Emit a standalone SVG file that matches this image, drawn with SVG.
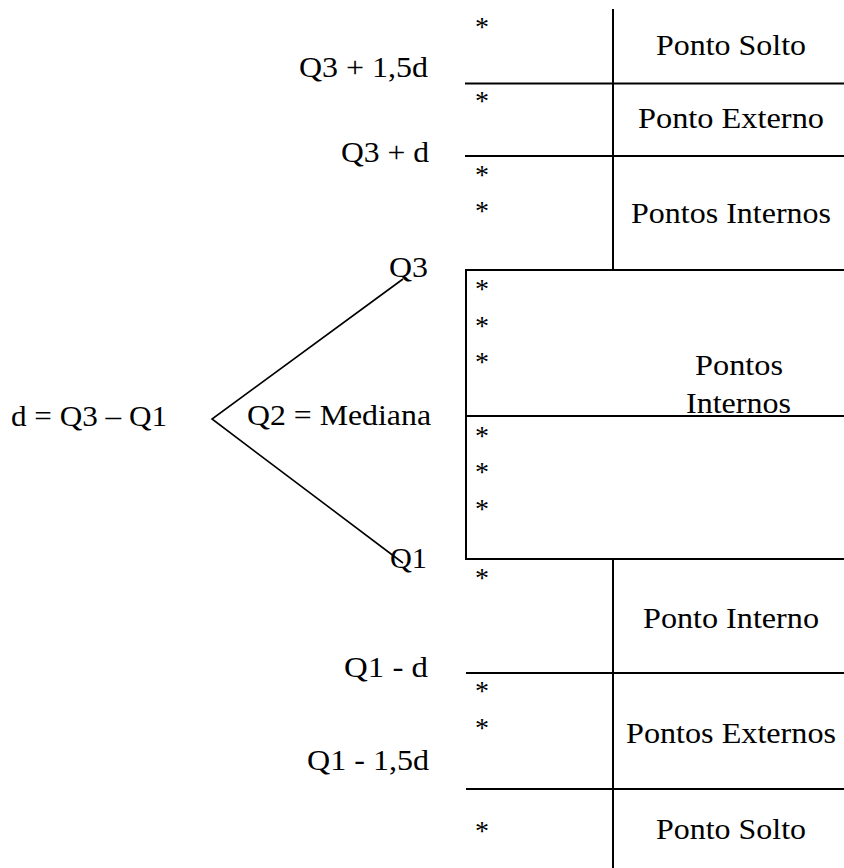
<svg xmlns="http://www.w3.org/2000/svg" width="844" height="868" viewBox="0 0 844 868">
<style>
text{font-family:"Liberation Serif","Times New Roman",serif;font-size:30px;fill:#000}
.ast{text-anchor:middle;font-size:28px}
.grid{stroke:#000;stroke-width:2;fill:none}
.conn{stroke:#000;stroke-width:1.6;fill:none}
</style>
<rect width="844" height="868" fill="#fff"/>
<g id="grid">
<line class="grid" x1="613" y1="9" x2="613" y2="270"/>
<line class="grid" x1="465" y1="83.5" x2="846" y2="83.5"/>
<line class="grid" x1="465" y1="156" x2="846" y2="156"/>
<path class="grid" d="M846 270 H466 V559 H846"/>
<line class="grid" x1="466" y1="416" x2="846" y2="416"/>
<line class="grid" x1="613" y1="559" x2="613" y2="870"/>
<line class="grid" x1="466" y1="673" x2="846" y2="673"/>
<line class="grid" x1="466" y1="789" x2="846" y2="789"/>
</g>
<g id="connectors">
<polyline class="conn" points="403,279 212,419 403,563"/>
</g>
<g id="node-d"><text x="11" y="426" textLength="156" lengthAdjust="spacingAndGlyphs">d = Q3 – Q1</text></g>
<g id="node-q2"><text x="247" y="425" textLength="184" lengthAdjust="spacingAndGlyphs">Q2 = Mediana</text></g>
<g id="node-q3"><text x="389" y="277" textLength="39" lengthAdjust="spacingAndGlyphs">Q3</text></g>
<g id="node-q1"><text x="390" y="568" textLength="37" lengthAdjust="spacingAndGlyphs">Q1</text></g>
<g id="node-q3-15d"><text x="299" y="77" textLength="129" lengthAdjust="spacingAndGlyphs">Q3 + 1,5d</text></g>
<g id="node-q3-d"><text x="341" y="162" textLength="88" lengthAdjust="spacingAndGlyphs">Q3 + d</text></g>
<g id="node-q1-d"><text x="344" y="677" textLength="84" lengthAdjust="spacingAndGlyphs">Q1 - d</text></g>
<g id="node-q1-15d"><text x="307" y="770" textLength="122" lengthAdjust="spacingAndGlyphs">Q1 - 1,5d</text></g>
<g id="cell-solto-top"><text class="ast" x="482" y="36">*</text><text x="656" y="55" textLength="150" lengthAdjust="spacingAndGlyphs">Ponto Solto</text></g>
<g id="cell-externo-top"><text class="ast" x="482" y="110">*</text><text x="638" y="128" textLength="186" lengthAdjust="spacingAndGlyphs">Ponto Externo</text></g>
<g id="cell-internos-top"><text class="ast" x="482" y="184">*</text><text class="ast" x="482" y="220">*</text><text x="631" y="223" textLength="200" lengthAdjust="spacingAndGlyphs">Pontos Internos</text></g>
<g id="cell-box"><text class="ast" x="482" y="298">*</text><text class="ast" x="482" y="335">*</text><text class="ast" x="482" y="371">*</text><text class="ast" x="482" y="445">*</text><text class="ast" x="482" y="481">*</text><text class="ast" x="482" y="518">*</text><text x="695" y="375" textLength="88" lengthAdjust="spacingAndGlyphs">Pontos</text><text x="686" y="413" textLength="105" lengthAdjust="spacingAndGlyphs">Internos</text></g>
<g id="cell-interno-bottom"><text class="ast" x="482" y="587">*</text><text x="643" y="628" textLength="176" lengthAdjust="spacingAndGlyphs">Ponto Interno</text></g>
<g id="cell-externos-bottom"><text class="ast" x="482" y="700">*</text><text class="ast" x="482" y="737">*</text><text x="626" y="743" textLength="210" lengthAdjust="spacingAndGlyphs">Pontos Externos</text></g>
<g id="cell-solto-bottom"><text class="ast" x="482" y="840">*</text><text x="656" y="839" textLength="150" lengthAdjust="spacingAndGlyphs">Ponto Solto</text></g>
</svg>
